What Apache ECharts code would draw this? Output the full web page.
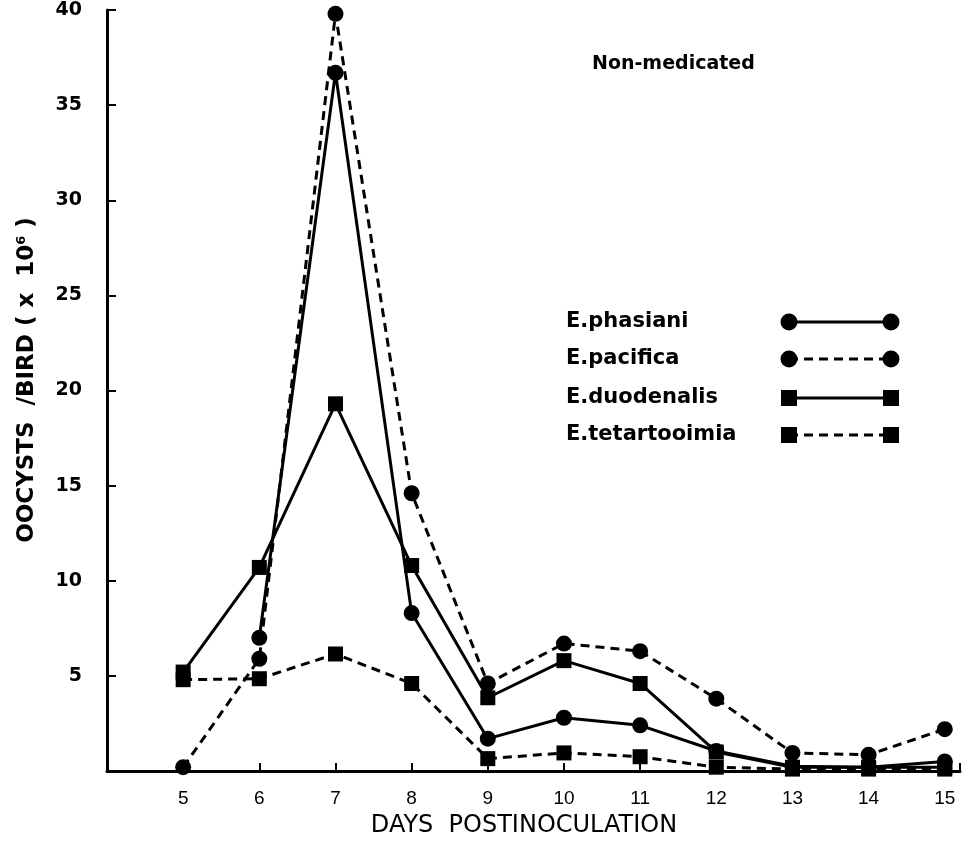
<!DOCTYPE html>
<html>
<head>
<meta charset="utf-8">
<script src="https://cdn.jsdelivr.net/npm/echarts@6/dist/echarts.min.js"></script>
<style>
  html, body { margin: 0; padding: 0; background: #fff; }
  #chart { width: 966px; height: 841px; }
</style>
</head>
<body>
<div id="chart"></div>
<script>
// days postinoculation
const days = [5, 6, 7, 8, 9, 10, 11, 12, 13, 14, 15]
// oocysts per bird (x 10^6)
const phasiani = [null, 7.0, 36.7, 8.3, 1.7, 2.8, 2.4, 1.05, 0.25, 0.2, 0.5]
const pacifica = [0.2, 5.9, 39.8, 14.6, 4.6, 6.7, 6.3, 3.8, 0.95, 0.85, 2.2]
const duodenalis = [5.2, 10.7, 19.3, 10.8, 3.85, 5.8, 4.6, 1.0, 0.2, 0.2, 0.2]
const tetartooimia = [4.8, 4.85, 6.15, 4.6, 0.65, 0.95, 0.75, 0.2, 0.1, 0.1, 0.1]
const yTicks = [5, 10, 15, 20, 25, 30, 35, 40]

const seriesNames = ['E.phasiani', 'E.pacifica', 'E.duodenalis', 'E.tetartooimia']
const seriesData = [phasiani, pacifica, duodenalis, tetartooimia]
const seriesSymbols = ['circle', 'circle', 'rect', 'rect']
const seriesDashed = [false, true, false, true]

const font = '"Liberation Sans", Arial, sans-serif'
const wide = '"DejaVu Sans", Verdana, sans-serif'
const dash = [9, 6]

const chart = echarts.init(document.getElementById('chart'))

const series = seriesNames.map((name, i) => ({
  name,
  type: 'line',
  data: days.map((d, j) => [d, seriesData[i][j]]),
  symbol: seriesSymbols[i],
  symbolSize: seriesSymbols[i] === 'circle' ? 16 : 15,
  showSymbol: true,
  connectNulls: false,
  clip: false,
  itemStyle: { color: '#000' },
  lineStyle: {
    color: '#000',
    width: 3,
    type: seriesDashed[i] ? dash : 'solid'
  },
  z: 3 - i
}))

// hand-built legend: label, then a line with a marker at each end
const legendGraphic = []
const legendY = [322, 359, 398, 435]
seriesNames.forEach((name, i) => {
  const y = legendY[i]
  legendGraphic.push({
    type: 'text', x: 566, y: y,
    style: { text: name, font: 'bold 21px ' + wide, fill: '#000', verticalAlign: 'middle' }
  })
  legendGraphic.push({
    type: 'line',
    shape: { x1: 789, y1: y, x2: 891, y2: y },
    style: { stroke: '#000', lineWidth: 3, lineDash: seriesDashed[i] ? dash : null }
  })
  ;[789, 891].forEach(cx => {
    if (seriesSymbols[i] === 'circle') {
      legendGraphic.push({
        type: 'circle', shape: { cx, cy: y, r: 8.5 }, style: { fill: '#000' }
      })
    } else {
      legendGraphic.push({
        type: 'rect', shape: { x: cx - 8, y: y - 8, width: 16, height: 16 }, style: { fill: '#000' }
      })
    }
  })
})

chart.setOption({
  animation: false,
  backgroundColor: '#fff',
  grid: { left: 107, right: 6, top: 10, bottom: 70 },
  xAxis: {
    type: 'value',
    min: 4,
    max: 15.2,
    interval: 1,
    splitLine: { show: false },
    axisLine: { lineStyle: { color: '#000', width: 3 } },
    axisTick: { inside: true, length: 8, lineStyle: { color: '#000', width: 2 } },
    axisLabel: {
      margin: 18,
      color: '#000',
      fontFamily: font,
      fontSize: 19,
      formatter: v => (v >= 5 && Number.isInteger(v)) ? String(v) : ''
    }
  },
  yAxis: {
    type: 'value',
    min: 0,
    max: 40,
    interval: 5,
    splitLine: { show: false },
    axisLine: { show: true, lineStyle: { color: '#000', width: 3 } },
    axisTick: { inside: true, length: 9, lineStyle: { color: '#000', width: 2 } },
    axisLabel: {
      margin: 25,
      color: '#000',
      fontFamily: wide,
      fontWeight: 'bold',
      fontSize: 19,
      formatter: v => yTicks.includes(v) ? String(v) : ''
    }
  },
  graphic: [
    {
      type: 'text',
      x: 592,
      y: 64,
      style: { text: 'Non-medicated', font: 'bold 19px ' + wide, fill: '#000', verticalAlign: 'middle' }
    },
    {
      type: 'text',
      x: 524,
      y: 826,
      style: {
        text: 'DAYS  POSTINOCULATION',
        font: '24px ' + wide,
        fill: '#000',
        align: 'center',
        verticalAlign: 'middle'
      }
    },
    {
      type: 'text',
      x: 27,
      y: 380,
      rotation: Math.PI / 2,
      style: {
        text: '{a|OOCYSTS  /BIRD ( x  10}{s|6}{a| )}',
        align: 'center',
        verticalAlign: 'middle',
        rich: {
          a: { fontFamily: wide, fontWeight: 'bold', fontSize: 23, fill: '#000' },
          s: { fontFamily: wide, fontWeight: 'bold', fontSize: 13, fill: '#000', verticalAlign: 'top', padding: [0, 0, 10, 0] }
        }
      }
    },
    ...legendGraphic
  ],
  series
})
</script>
</body>
</html>
